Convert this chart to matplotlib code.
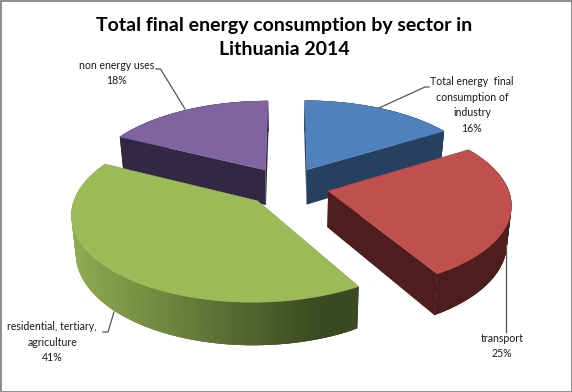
import numpy as np
import matplotlib
matplotlib.use("Agg")
import matplotlib.pyplot as plt
from matplotlib.patches import Polygon, Rectangle

plt.rcParams['font.family'] = ['Lato', 'DejaVu Sans']

sectors = ["Total energy  final\nconsumption of\nindustry", "transport",
           "residential, tertiary,\nagriculture", "non energy uses"]
shares = [16.2, 25.4, 40.8, 17.6]

top_colors = ["#4F81BD", "#C0504D", "#9BBB59", "#8064A2"]
wall_light = ["#254061", "#4F1F1D", "#8FAD52", "#322843"]
wall_dark = ["#254061", "#4D1E1D", "#3B4A21", "#322843"]
draw_order = [3, 0, 2, 1]

# label centre, then the leader line points
label_pos = [(472, 105), (502, 346), (52, 342), (117, 73)]
leaders = [[(429, 87), (425, 87), (379, 108)],
           [(506, 332), (506, 245)],
           [(103, 332), (108, 332), (114, 312)],
           [(156, 69), (160.5, 69), (185, 109)]]

# perspective of the disc, in pixels
cx = 287
focal_x = 1290
focal_y = 4300
dist = 7.2
horizon = -411
explode = 0.235
depth = 36
shrink = 0.98


def project(X, Y):
    s = dist + Y
    return cx + focal_x * X / s, horizon + focal_y / s


def lower(x, y, Y):
    return cx + (x - cx) * shrink, y + depth * dist / (dist + Y)


def hex_mix(c1, c2, t):
    a = np.array(matplotlib.colors.to_rgb(c1))
    b = np.array(matplotlib.colors.to_rgb(c2))
    return tuple(a + (b - a) * t)


fig = plt.figure(figsize=(5.72, 3.92), dpi=100)
ax = fig.add_axes([0, 0, 1, 1])
ax.set_xlim(0, 572)
ax.set_ylim(392, 0)
ax.axis("off")

edges = np.cumsum([0] + shares) / sum(shares) * 2 * np.pi

for i in draw_order:
    start, end = edges[i], edges[i + 1]
    mid = (start + end) / 2
    ox, oy = explode * np.sin(mid), explode * np.cos(mid)
    th = np.linspace(start, end, 90)
    X = np.concatenate([[ox], ox + np.sin(th)])
    Y = np.concatenate([[oy], oy + np.cos(th)])
    x, y = project(X, Y)
    bx, by = lower(x, y, Y)

    # cut faces
    for k in (1, len(x) - 1):
        quad = [(x[0], y[0]), (x[k], y[k]), (bx[k], by[k]), (bx[0], by[0])]
        ax.add_patch(Polygon(quad, fc=wall_dark[i], ec="none"))

    # outer wall, shaded left to right; each quad overlaps the next so no seams show
    for k in range(1, len(x) - 1):
        n = min(k + 3, len(x) - 1)
        t = np.clip((x[k] - 70) / (320 - 70), 0, 1)
        col = hex_mix(wall_light[i], wall_dark[i], t)
        xs = np.concatenate([x[k:n + 1], bx[k:n + 1][::-1]])
        ys = np.concatenate([y[k:n + 1], by[k:n + 1][::-1]])
        ax.add_patch(Polygon(np.column_stack([xs, ys]), fc=col, ec="none"))

    ax.add_patch(Polygon(np.column_stack([x, y]), fc=top_colors[i], ec=top_colors[i], lw=0.3))

for pts in leaders:
    px, py = zip(*pts)
    ax.plot(px, py, color="#555555", lw=0.9, zorder=5)

for name, share, pos in zip(sectors, shares, label_pos):
    ax.text(pos[0], pos[1], f"{name}\n{share:.0f}%", ha="center", va="center",
            fontsize=7.6, color="#1a1a1a", linespacing=1.5, zorder=6)

ax.text(284, 37.5, "Total final energy consumption by sector in\nLithuania 2014",
        ha="center", va="center", fontsize=14, fontweight="bold", color="black", linespacing=1.55)

ax.add_patch(Rectangle((0.5, 0.5), 571, 391, fc="none", ec="#8c8c8c", lw=1.4, zorder=10))

fig.savefig("out.png", dpi=100)
